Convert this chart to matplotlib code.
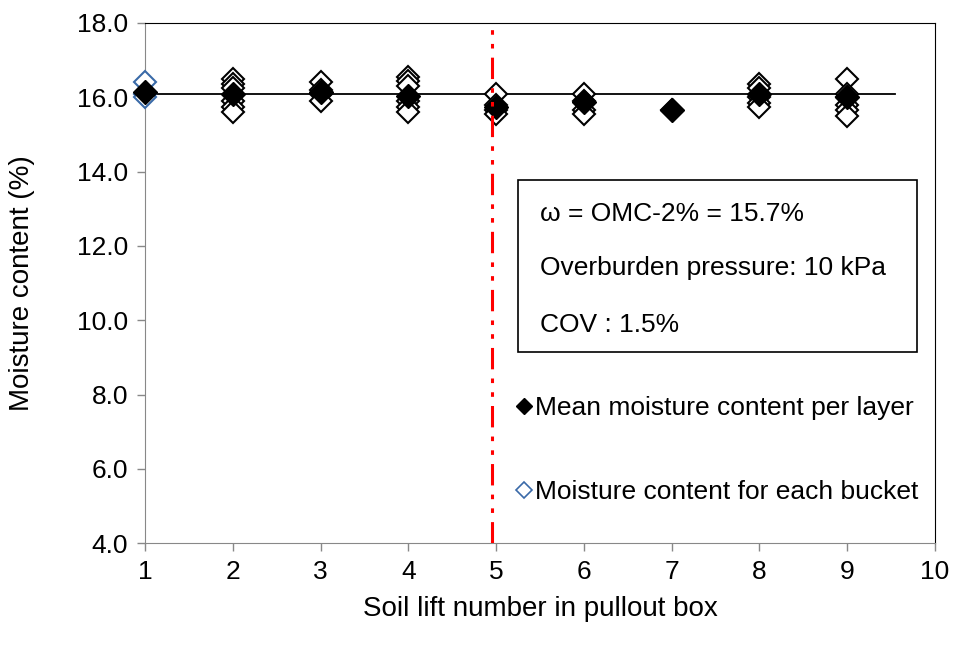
import matplotlib.pyplot as plt
from matplotlib.lines import Line2D
from matplotlib.patches import Rectangle

plt.rcParams['font.family'] = ['Liberation Sans', 'DejaVu Sans']

# mean moisture content per soil lift
layers = [1, 2, 3, 4, 5, 6, 7, 8, 9]
mean_mc = [16.15, 16.08, 16.15, 16.03, 15.75, 15.88, 15.66, 16.1, 16.02]

# moisture content measured in each bucket, per lift
bucket_mc = [
    [16.4, 16.1, 16.0],
    [16.5, 16.35, 16.25, 15.9, 15.75, 15.6],
    [16.4, 16.2, 16.1, 15.9],
    [16.55, 16.45, 16.3, 15.9, 15.75, 15.6],
    [16.1, 15.8, 15.65, 15.55],
    [16.1, 15.9, 15.65, 15.55],
    [15.65],
    [16.35, 16.25, 16.0, 15.85, 15.75],
    [16.5, 16.1, 16.0, 15.8, 15.65, 15.5],
]

target_mc = 16.1      # horizontal reference line
target_end = 9.55
split_lift = 4.95     # red dash-dot divider

fig = plt.figure(figsize=(9.54, 6.56), dpi=100)
ax = fig.add_axes([0.152, 0.172, 0.828, 0.793])

ax.plot([1, target_end], [target_mc, target_mc], color='black', lw=1.3, zorder=2)
ax.plot([split_lift, split_lift], [4, 18], color='#ff0000', lw=2.2,
        linestyle=(0, (7, 3, 1.5, 3, 1.5, 3)), zorder=5)

for lift, vals in zip(layers, bucket_mc):
    col = '#3a6aa8' if lift == 1 else 'black'
    for v in sorted(vals, reverse=True):
        ax.plot(lift, v, marker='D', ms=11, mfc='white', mec=col, mew=1.5,
                linestyle='none', zorder=3, clip_on=False)

ax.plot(layers, mean_mc, marker='D', ms=12, color='black', linestyle='none',
        zorder=4, clip_on=False)

ax.set_xlim(1, 10)
ax.set_ylim(4, 18)
ax.set_xticks(range(1, 11))
ax.set_yticks([4, 6, 8, 10, 12, 14, 16, 18])
ax.set_yticklabels(['%.1f' % t for t in [4, 6, 8, 10, 12, 14, 16, 18]])
ax.tick_params(labelsize=19, color='#888888', length=6, width=1, pad=6)

for s in ['left', 'bottom']:
    ax.spines[s].set_color('#888888')
for s in ['top', 'right']:
    ax.spines[s].set_color('black')

ax.set_ylabel('Moisture content (%)', fontsize=20, labelpad=30)
ax.set_xlabel('Soil lift number in pullout box', fontsize=20, labelpad=9)

# annotation box
ax.add_patch(Rectangle((0.472, 0.367), 0.505, 0.331, transform=ax.transAxes,
                       fill=False, edgecolor='black', lw=1.2, zorder=6))
ax.text(0.5, 0.632, 'ω = OMC-2% = 15.7%', transform=ax.transAxes,
        fontsize=19, va='center')
ax.text(0.5, 0.528, 'Overburden pressure: 10 kPa', transform=ax.transAxes,
        fontsize=19, va='center')
ax.text(0.5, 0.42, 'COV : 1.5%', transform=ax.transAxes,
        fontsize=19, va='center')

handles = [
    Line2D([], [], marker='D', ms=8, color='black', linestyle='none'),
    Line2D([], [], marker='D', ms=8, mfc='white', mec='#3a6aa8', mew=1.2,
           linestyle='none'),
]
ax.legend(handles, ['Mean moisture content per layer',
                    'Moisture content for each bucket'],
          loc='upper left', bbox_to_anchor=(0.472, 0.282), frameon=False,
          fontsize=19, handlelength=0.5, handletextpad=0.15, labelspacing=2.25,
          borderaxespad=0, borderpad=0)

plt.savefig('out.png', dpi=100)
